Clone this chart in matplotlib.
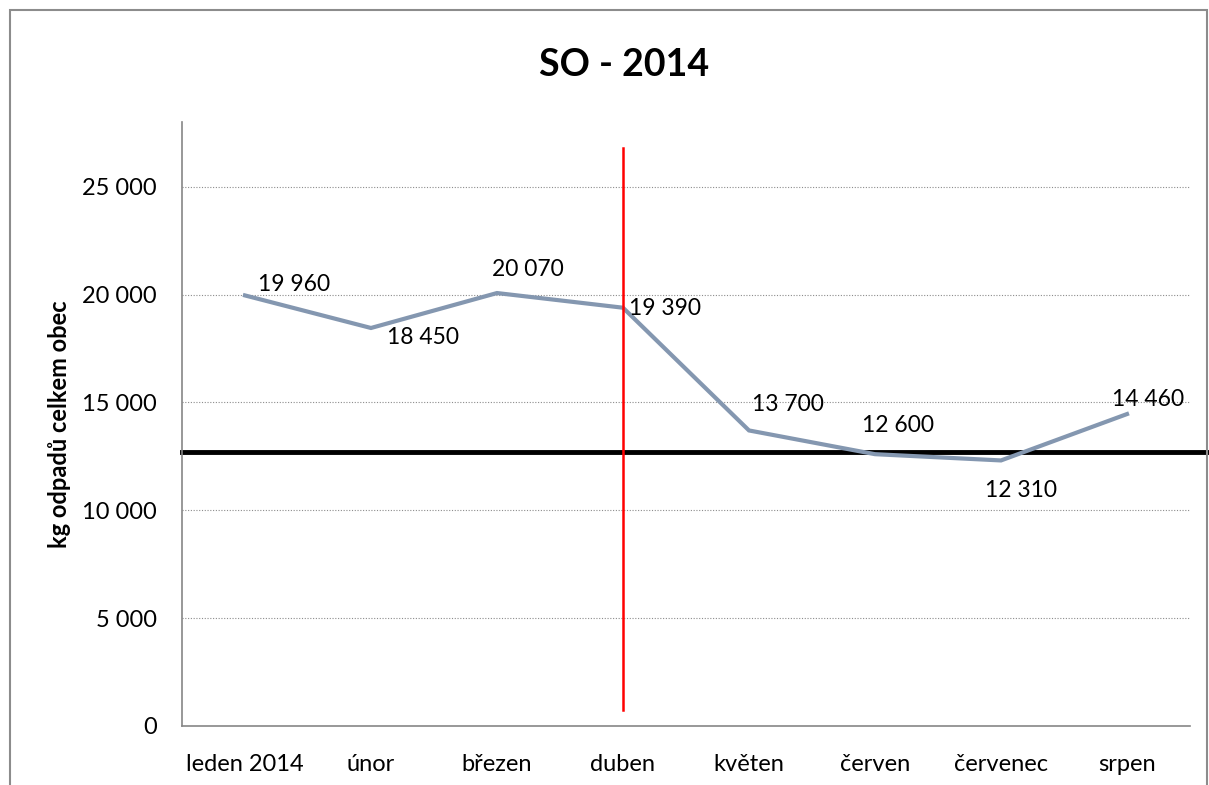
import matplotlib.pyplot as plt
from matplotlib.patches import Rectangle
from matplotlib.ticker import FuncFormatter

# -------------------------
# Data
# -------------------------
months = ["leden 2014", "únor", "březen", "duben", "květen", "červen", "červenec", "srpen"]
waste_kg = [19960, 18450, 20070, 19390, 13700, 12600, 12310, 14460]
limit_kg = 12700
marker_month = "duben"

# label offsets in pixels (dx to left edge, dy to centre) - styling only
label_offsets = [(13, 11), (16, -10), (-5, 24), (6, -1), (3, 26), (-13, 29), (-16, -30), (-15, 15)]

plt.rcParams['font.family'] = ['Lato', 'DejaVu Sans']

fig = plt.figure(figsize=(12.09, 7.85), dpi=100)
ax = fig.add_axes([0.1505, 0.0752, 0.8338, 0.7694])

x = list(range(len(months)))
ax.plot(x, waste_kg, color="#8497b0", linewidth=3, solid_joinstyle="miter", zorder=3)

for xi, v, (dx, dy) in zip(x, waste_kg, label_offsets):
    ax.annotate(f"{v:,}".replace(",", " "), (xi, v), xytext=(dx, dy),
                textcoords="offset pixels", ha="left", va="center",
                fontsize=16.5, zorder=4)

# black reference line stretches past the plot to the right edge
ax.axhline(limit_kg, xmin=0, xmax=1.03, color="black", linewidth=3.5, clip_on=False, zorder=2)

# red marker line
mi = months.index(marker_month)
ax.plot([mi, mi], [750, 26800], color="red", linewidth=1.8, zorder=5, clip_on=False)

ax.set_xlim(-0.5, len(months) - 0.5)
ax.set_ylim(0, 28000)
ax.set_xticks(x)
ax.set_xticklabels(months, fontsize=17)
ax.set_yticks(range(0, 25001, 5000))
ax.yaxis.set_major_formatter(FuncFormatter(lambda v, p: f"{int(v):,}".replace(",", " ")))
ax.tick_params(axis="y", labelsize=17, length=0, pad=18)
ax.tick_params(axis="x", length=0, pad=20)

for yv in range(5000, 25001, 5000):
    ax.axhline(yv, color="#8c8c8c", linewidth=0.8, linestyle=(0, (1, 1.5)), zorder=1)

for s in ["top", "right"]:
    ax.spines[s].set_visible(False)
for s in ["left", "bottom"]:
    ax.spines[s].set_color("#868686")
    ax.spines[s].set_linewidth(1.2)

ax.set_ylabel("kg odpadů celkem obec", fontsize=17, fontweight="bold", labelpad=8)

fig.text(0.516, 0.917, "SO - 2014", ha="center", va="center", fontsize=27, fontweight="bold")

# outer chart frame
fig.patches.append(Rectangle((10 / 1209, -0.1), 1197 / 1209, 1.1 - 10 / 785,
                             transform=fig.transFigure, fill=False,
                             edgecolor="#8c8c8c", linewidth=1.5))

fig.savefig("out.png", dpi=100)
